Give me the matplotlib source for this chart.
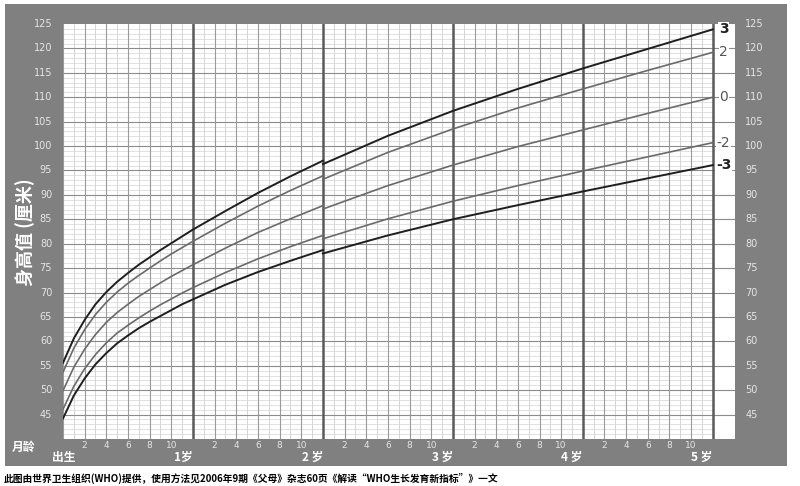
import matplotlib.pyplot as plt
import numpy as np
from matplotlib.patches import Rectangle

plt.rcParams['font.family'] = ['Noto Sans CJK SC', 'DejaVu Sans']

# WHO boys, length (0-24 months) and height (24-60 months), cm
len_months = [0, 1, 2, 3, 4, 5, 6, 7, 8, 9, 10, 11, 12, 15, 18, 21, 24]
len_m3 = [44.2, 48.9, 52.4, 55.3, 57.6, 59.6, 61.2, 62.7, 64.0, 65.2, 66.4, 67.6, 68.6, 71.6, 74.2, 76.5, 78.7]
len_m2 = [46.1, 50.8, 54.4, 57.3, 59.7, 61.7, 63.3, 64.8, 66.2, 67.5, 68.7, 69.9, 71.0, 74.1, 76.9, 79.4, 81.7]
len_0 = [49.9, 54.7, 58.4, 61.4, 63.9, 65.9, 67.6, 69.2, 70.6, 72.0, 73.3, 74.5, 75.7, 79.1, 82.3, 85.1, 87.8]
len_p2 = [53.7, 58.6, 62.4, 65.5, 68.0, 70.1, 71.9, 73.5, 75.0, 76.5, 77.9, 79.2, 80.5, 84.2, 87.7, 90.9, 93.9]
len_p3 = [55.6, 60.6, 64.4, 67.6, 70.1, 72.2, 74.0, 75.7, 77.2, 78.7, 80.1, 81.5, 82.9, 86.7, 90.4, 93.8, 97.0]

hgt_months = [24, 30, 36, 42, 48, 54, 60]
hgt_m3 = [78.0, 81.7, 85.0, 87.9, 90.7, 93.4, 96.1]
hgt_m2 = [81.0, 85.1, 88.7, 91.9, 94.9, 97.8, 100.7]
hgt_0 = [87.1, 91.9, 96.1, 99.9, 103.3, 106.7, 110.0]
hgt_p2 = [93.2, 98.7, 103.5, 107.8, 111.7, 115.5, 119.2]
hgt_p3 = [96.3, 102.1, 107.2, 111.7, 115.9, 119.9, 123.9]

sd_labels = ['-3', '-2', '0', '2', '3']
year_labels = ['出生', '1岁', '2 岁', '3 岁', '4 岁', '5 岁']

fig = plt.figure(figsize=(8, 4.86), dpi=100)
fig.patches.append(Rectangle((5/800, 1-466/486), 782/800, 462/486, transform=fig.transFigure,
                             facecolor='#808080', edgecolor='none', zorder=-10))

ax = fig.add_axes([63/800, 1-439/486, 672/800, 415/486])
ax.set_zorder(2)
ax.set_xlim(0, 62.05)
ax.set_ylim(40, 125)
ax.set_facecolor('white')
for s in ax.spines.values():
    s.set_visible(False)

# grid
for y in range(41, 125):
    if y % 5:
        ax.plot([0, 60], [y, y], color='#dcdcdc', lw=0.6, zorder=1)
for y in range(45, 125, 5):
    ax.plot([0, 62.05], [y, y], color='#8c8c8c', lw=0.8, zorder=2)
for m in range(1, 60):
    if m % 12 == 0:
        continue
    if m % 2:
        ax.plot([m, m], [40, 125], color='#d0d0d0', lw=0.6, zorder=1)
    else:
        ax.plot([m, m], [40, 125], color='#9a9a9a', lw=0.8, zorder=2)
ax.plot([0, 0], [40, 125], color='#9a9a9a', lw=0.8, zorder=2)
for m in [12, 24, 36, 48, 60]:
    ax.plot([m, m], [40, 125], color='#5a5a5a', lw=1.8, zorder=3)

# curves
len_sets = [len_m3, len_m2, len_0, len_p2, len_p3]
hgt_sets = [hgt_m3, hgt_m2, hgt_0, hgt_p2, hgt_p3]
for lab, ly, hy in zip(sd_labels, len_sets, hgt_sets):
    dark = lab in ('3', '-3')
    c = '#1e1e1e' if dark else '#6a6a6a'
    lw = 1.4 if dark else 1.2
    ax.plot(len_months, ly, color=c, lw=lw, zorder=4)
    ax.plot(hgt_months, hy, color=c, lw=lw, zorder=4)
    ax.text(61.0, hy[-1], lab, ha='center', va='center', fontsize=10,
            fontweight='bold' if dark else 'normal', color='#222222' if dark else '#555555',
            family=['DejaVu Sans'], zorder=5,
            bbox=dict(facecolor='white', edgecolor='none', pad=0.5))

ax.set_xticks([])
ax.set_yticks([])
ax.tick_params(length=0)

# y tick labels on both sides
for y in range(45, 126, 5):
    ax.text(-1.0, y, str(y), ha='right', va='center', fontsize=7, color='#e6e6e6',
            family=['DejaVu Sans'], clip_on=False)
    ax.text(63.0, y, str(y), ha='left', va='center', fontsize=7, color='#e6e6e6',
            family=['DejaVu Sans'], clip_on=False)

# x tick labels (months within each year)
for yr in range(5):
    for m in [2, 4, 6, 8, 10]:
        ax.text(yr*12 + m, 38.7, str(m), ha='center', va='center', fontsize=6.5,
                color='#e6e6e6', family=['DejaVu Sans'], clip_on=False)

ax.text(0.1, 36.3, year_labels[0], ha='center', va='center', fontsize=8.5,
        color='white', fontweight='bold', clip_on=False)
for i, lab in enumerate(year_labels[1:], start=1):
    ax.text(i*12, 36.3, lab, ha='right', va='center', fontsize=8.5,
            color='white', fontweight='bold', clip_on=False)

fig.text(23/800, 1-447/486, '月龄', ha='center', va='center', fontsize=8.5,
         color='white', fontweight='bold')
fig.text(25/800, 1-232/486, '身高值 (厘米)', ha='center', va='center', fontsize=13,
         color='white', fontweight='bold', rotation=90)

fig.text(4/800, 1-478/486,
         '此图由世界卫生组织(WHO)提供，使用方法见2006年9期《父母》杂志60页《解读“WHO生长发育新指标”》一文',
         ha='left', va='center', fontsize=7, color='black', fontweight='bold')

fig.savefig('out.png', dpi=100)
